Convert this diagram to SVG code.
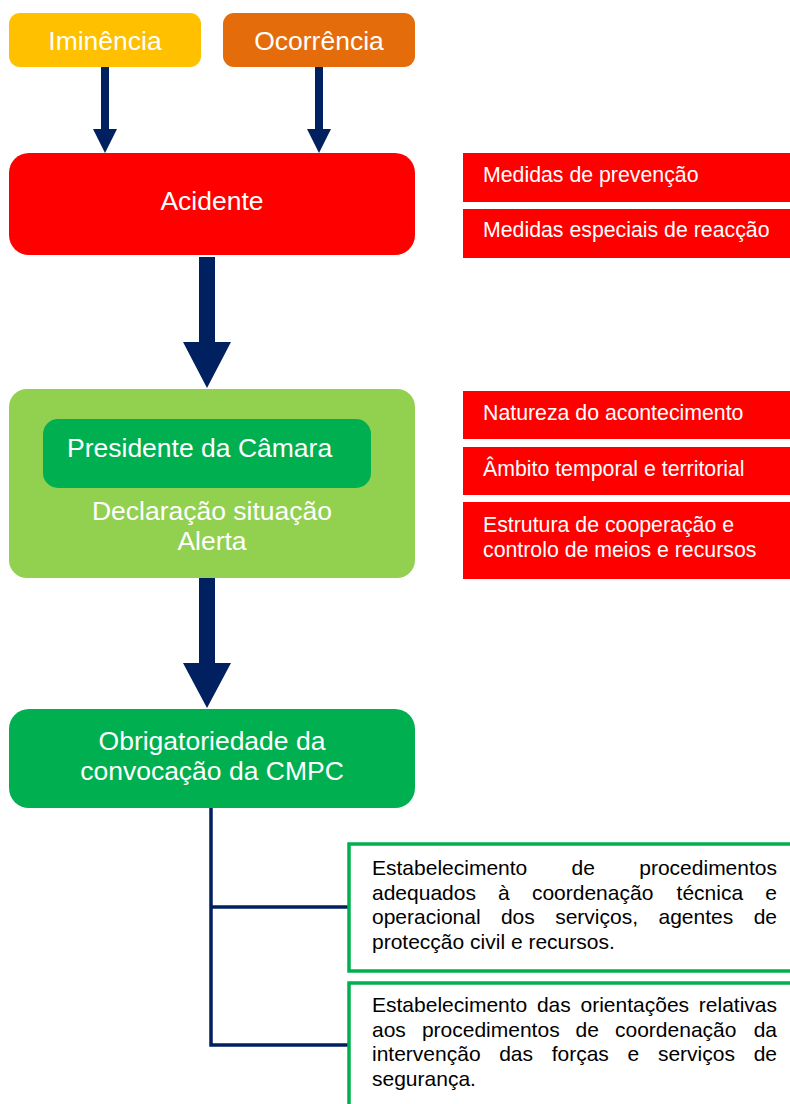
<svg xmlns="http://www.w3.org/2000/svg" width="790" height="1104" viewBox="0 0 790 1104">
<style>
  .t { font-family: "Liberation Sans", Arial, sans-serif; }
  .big { font-size: 26.5px; fill: #ffffff; text-anchor: middle; }
  .side { font-size: 21.3px; fill: #ffffff; }
  .body { font-size: 21px; fill: #000000; }
  .red { fill: #ff0000; }
  .arrow { fill: #002060; }
  .conn { stroke: #002060; stroke-width: 3.5; fill: none; }
  .gbox { fill: #ffffff; stroke: #00b050; stroke-width: 3.5; }
  .end { text-anchor: end; }
</style>
<rect width="790" height="1104" fill="#ffffff"/>

<g id="connectors">
  <polygon class="arrow" points="101,67 109,67 109,129 117,129 105,153 93,129 101,129"/>
  <polygon class="arrow" points="315,67 323,67 323,129 331,129 319,153 307,129 315,129"/>
  <polygon class="arrow" points="199,257 215,257 215,342 231,342 207,388 183,342 199,342"/>
  <polygon class="arrow" points="199,578 215,578 215,663 231,663 207,708 183,663 199,663"/>
  <path class="conn" d="M211,808 V1045 M209.25,907 H348 M209.25,1045 H348"/>
</g>

<g id="iminencia">
  <rect x="9" y="13" width="192" height="54" rx="11" fill="#ffc000"/>
  <text class="t big" x="105" y="50">Iminência</text>
</g>
<g id="ocorrencia">
  <rect x="223" y="13" width="192" height="54" rx="11" fill="#e46c0a"/>
  <text class="t big" x="319" y="50">Ocorrência</text>
</g>
<g id="acidente">
  <rect x="9" y="153" width="406" height="102" rx="20" fill="#ff0000"/>
  <text class="t big" x="212" y="210">Acidente</text>
</g>
<g id="medidas-prevencao">
  <rect class="red" x="463" y="153" width="327" height="49"/>
  <text class="t side" x="483" y="182">Medidas de prevenção</text>
</g>
<g id="medidas-reaccao">
  <rect class="red" x="463" y="209" width="327" height="49"/>
  <text class="t side" x="483" y="237">Medidas especiais de reacção</text>
</g>

<g id="declaracao">
  <rect x="9" y="389" width="406" height="189" rx="18" fill="#92d050"/>
  <text class="t big" x="212" y="520">Declaração situação</text>
  <text class="t big" x="212" y="550">Alerta</text>
</g>
<g id="presidente">
  <rect x="43" y="419" width="328" height="69" rx="15" fill="#00b050"/>
  <text class="t big" x="67" y="457" style="text-anchor:start">Presidente da Câmara</text>
</g>
<g id="natureza">
  <rect class="red" x="463" y="391" width="327" height="48"/>
  <text class="t side" x="483" y="420">Natureza do acontecimento</text>
</g>
<g id="ambito">
  <rect class="red" x="463" y="447" width="327" height="48"/>
  <text class="t side" x="483" y="476">Âmbito temporal e territorial</text>
</g>
<g id="estrutura">
  <rect class="red" x="463" y="502" width="327" height="77"/>
  <text class="t side" x="483" y="532">Estrutura de cooperação e</text>
  <text class="t side" x="483" y="557">controlo de meios e recursos</text>
</g>

<g id="obrigatoriedade">
  <rect x="9" y="709" width="406" height="99" rx="20" fill="#00b050"/>
  <text class="t big" x="212" y="750">Obrigatoriedade da</text>
  <text class="t big" x="212" y="780">convocação da CMPC</text>
</g>

<g id="procedimentos">
  <rect class="gbox" x="349" y="844" width="460" height="127"/>
  <text class="t body" y="875"><tspan x="372">Estabelecimento</tspan><tspan x="571.6">de</tspan></text>
  <text class="t body end" x="777" y="875">procedimentos</text>
  <text class="t body" y="899.5"><tspan x="372">adequados</tspan><tspan x="498">à</tspan><tspan x="531.9">coordenação</tspan><tspan x="676.6">técnica</tspan></text>
  <text class="t body end" x="777" y="899.5">e</text>
  <text class="t body" y="924"><tspan x="372">operacional</tspan><tspan x="500.9">dos</tspan><tspan x="555.2">serviços,</tspan><tspan x="658.5">agentes</tspan></text>
  <text class="t body end" x="777" y="924">de</text>
  <text class="t body" x="372" y="948.5">protecção civil e recursos.</text>
</g>

<g id="orientacoes">
  <rect class="gbox" x="349" y="983" width="460" height="200"/>
  <text class="t body" y="1012"><tspan x="372">Estabelecimento</tspan><tspan x="536.9">das</tspan><tspan x="580.5">orientações</tspan></text>
  <text class="t body end" x="777" y="1012">relativas</text>
  <text class="t body" y="1036.5"><tspan x="372">aos</tspan><tspan x="421.9">procedimentos</tspan><tspan x="575.6">de</tspan><tspan x="615">coordenação</tspan></text>
  <text class="t body end" x="777" y="1036.5">da</text>
  <text class="t body" y="1061"><tspan x="372">intervenção</tspan><tspan x="499.2">das</tspan><tspan x="551.7">forças</tspan><tspan x="627.6">e</tspan><tspan x="657.9">serviços</tspan></text>
  <text class="t body end" x="777" y="1061">de</text>
  <text class="t body" x="372" y="1085.5">segurança.</text>
</g>
</svg>
